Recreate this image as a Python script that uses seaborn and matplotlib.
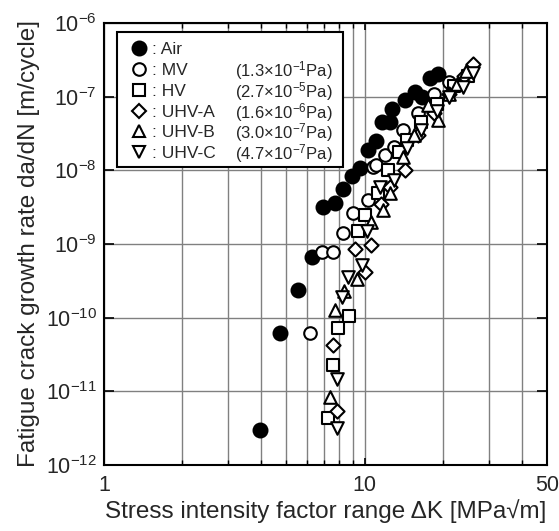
import matplotlib
matplotlib.use("Agg")
import matplotlib.pyplot as plt
from matplotlib.lines import Line2D
from matplotlib.patches import Rectangle
from matplotlib.ticker import FixedLocator, FixedFormatter, NullLocator, LogFormatterSciNotation
import seaborn as sns

# -----------------------------
# Data
# -----------------------------
air_dk = [3.97, 4.73, 5.53, 6.26, 6.94, 7.69, 8.28, 8.92, 9.6, 10.3,
          11.0, 11.6, 12.5, 12.7, 14.3, 15.6, 16.6, 17.8, 19.1]
air_rate = [3.0e-12, 6.2e-11, 2.4e-10, 6.7e-10, 3.2e-9, 3.6e-9, 5.5e-9, 8.4e-9, 1.07e-8, 1.9e-8,
            2.5e-8, 4.6e-8, 4.6e-8, 6.9e-8, 9.0e-8, 1.17e-7, 1.0e-7, 1.8e-7, 2.0e-7]

mv_dk = [6.17, 6.84, 7.58, 8.28, 9.04, 10.3, 10.8, 11.0, 12.0, 12.9, 14.0, 16.0, 18.5, 21.0]
mv_rate = [6.2e-11, 7.9e-10, 7.9e-10, 1.4e-9, 2.6e-9, 4.0e-9, 1.1e-8, 1.17e-8, 1.6e-8, 2.1e-8,
           3.5e-8, 6.0e-8, 1.1e-7, 1.6e-7]

hv_dk = [7.2, 7.58, 7.92, 8.7, 9.4, 10.0, 11.2, 12.3, 13.5, 14.5, 16.5, 19.0, 22.0, 25.0]
hv_rate = [4.3e-12, 2.3e-11, 7.3e-11, 1.04e-10, 1.5e-9, 2.5e-9, 5.0e-9, 1.0e-8, 1.8e-8, 2.6e-8,
           4.5e-8, 8.0e-8, 1.4e-7, 1.9e-7]

uhva_dk = [7.8, 7.58, 9.18, 10.0, 10.6, 11.5, 12.5, 14.3, 16.0, 18.5, 21.0, 24.0, 26.1]
uhva_rate = [5.4e-12, 4.3e-11, 8.5e-10, 4.2e-10, 9.8e-10, 3.5e-9, 6.0e-9, 1.0e-8, 3.0e-8,
             6.0e-8, 1.1e-7, 1.9e-7, 2.8e-7]

uhvb_dk = [7.36, 7.69, 8.3, 9.3, 10.6, 11.8, 12.5, 14.0, 15.5, 17.5, 19.1, 21.0, 22.6, 24.5]
uhvb_rate = [8.5e-12, 1.28e-10, 2.3e-10, 3.4e-10, 2.0e-9, 2.9e-9, 5.0e-9, 1.5e-8, 3.0e-8,
             7.7e-8, 4.8e-8, 1.1e-7, 1.5e-7, 2.2e-7]

uhvc_dk = [7.8, 7.8, 8.16, 8.65, 9.73, 10.2, 11.4, 12.9, 14.5, 16.5, 18.9, 21.0, 23.8, 26.0]
uhvc_rate = [3.2e-12, 1.45e-11, 1.9e-10, 3.6e-10, 5.2e-10, 1.5e-9, 6.0e-9, 7.4e-9, 2.0e-8,
             3.5e-8, 6.3e-8, 1.0e-7, 1.35e-7, 2.1e-7]

names = ["Air", "MV", "HV", "UHV-A", "UHV-B", "UHV-C"]
pressures = ["", "(1.3×10$^{-1}$Pa)", "(2.7×10$^{-5}$Pa)", "(1.6×10$^{-6}$Pa)",
             "(3.0×10$^{-7}$Pa)", "(4.7×10$^{-7}$Pa)"]

x_ticks = [1, 10, 50]
x_minor = [2, 3, 4, 5, 6, 7, 8, 9, 20, 30, 40]
y_ticks = [1e-12, 1e-11, 1e-10, 1e-9, 1e-8, 1e-7, 1e-6]

# -----------------------------
# Style
# -----------------------------
sns.set_style("ticks")
plt.rcParams["font.family"] = ["Liberation Sans", "DejaVu Sans"]
plt.rcParams["mathtext.fontset"] = "custom"
plt.rcParams["mathtext.rm"] = "Liberation Sans"
plt.rcParams["mathtext.it"] = "Liberation Sans:italic"
plt.rcParams["mathtext.default"] = "regular"

fig = plt.figure(figsize=(5.59, 5.31), dpi=100)
ax = fig.add_axes([0.186, 0.1243, 0.7925, 0.8324])

series = [
    (air_dk, air_rate, "o", "black", 100),
    (mv_dk, mv_rate, "o", "white", 82),
    (hv_dk, hv_rate, "s", "white", 70),
    (uhva_dk, uhva_rate, "D", "white", 52),
    (uhvb_dk, uhvb_rate, "^", "white", 82),
    (uhvc_dk, uhvc_rate, "v", "white", 82),
]

for dk, rate, mk, face, size in series:
    sns.scatterplot(x=dk, y=rate, marker=mk, s=size, color=face,
                    edgecolor="black", linewidth=1.5, ax=ax, legend=False, zorder=3)

ax.set_xscale("log")
ax.set_yscale("log")
ax.set_xlim(1, 50)
ax.set_ylim(1e-12, 1e-6)

ax.xaxis.set_major_locator(FixedLocator(x_ticks))
ax.xaxis.set_major_formatter(FixedFormatter([str(t) for t in x_ticks]))
ax.xaxis.set_minor_locator(FixedLocator(x_minor))
ax.yaxis.set_major_locator(FixedLocator(y_ticks))
ax.yaxis.set_major_formatter(LogFormatterSciNotation())
ax.yaxis.set_minor_locator(NullLocator())

ax.grid(which="both", axis="x", color="#808080", linewidth=1.0)
ax.grid(which="major", axis="y", color="#808080", linewidth=1.0)
ax.set_axisbelow(True)

ax.tick_params(axis="both", which="both", direction="in", top=True, right=True,
               color="black", labelsize=15.5)
ax.tick_params(axis="x", which="major", length=5, width=1.2, pad=7)
ax.tick_params(axis="x", which="minor", length=3.5, width=1.0)
ax.tick_params(axis="y", which="major", length=7, width=1.2, pad=5)
for sp in ax.spines.values():
    sp.set_linewidth(1.5)
    sp.set_color("black")

ax.set_xlabel("Stress intensity factor range ΔK [MPa√m]", fontsize=17.5, labelpad=2.5)
ax.set_ylabel("Fatigue crack growth rate da/dN [m/cycle]", fontsize=17.5, labelpad=4)

# -----------------------------
# Legend (frame drawn as a box spanning both text columns)
# -----------------------------
handles = []
for dk, rate, mk, face, size in series:
    handles.append(Line2D([], [], linestyle="none", marker=mk, markersize=size ** 0.5,
                          markerfacecolor=face, markeredgecolor="black", markeredgewidth=1.5))
labels = [": " + n for n in names]
leg = ax.legend(handles, labels, loc="upper left", bbox_to_anchor=(0.05, 0.968),
                borderaxespad=0, fontsize=12.5, handlelength=0.9,
                handletextpad=0.3, labelspacing=0.32, borderpad=0.3,
                frameon=False)
leg.set_zorder(5)

box = Rectangle((0.029, 0.674), 0.511, 0.306, transform=ax.transAxes,
                facecolor="white", edgecolor="black", linewidth=1.5, zorder=4)
ax.add_patch(box)

fig.canvas.draw()
inv = ax.transAxes.inverted()
for txt, p in zip(leg.get_texts(), pressures):
    if not p:
        continue
    bb = txt.get_window_extent()
    y = inv.transform((0, (bb.y0 + bb.y1) / 2))[1]
    ax.text(0.296, y, p, transform=ax.transAxes, fontsize=12, va="center",
            ha="left", zorder=6)

fig.savefig("out.png", dpi=100)
